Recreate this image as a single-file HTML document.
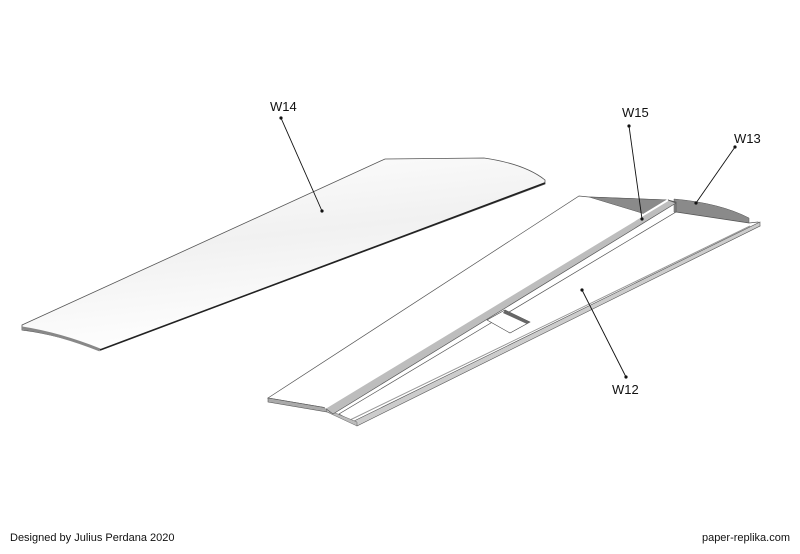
<!DOCTYPE html>
<html><head><style>
body{margin:0;background:#fff;width:800px;height:549px;overflow:hidden}
text{font-family:"Liberation Sans",sans-serif;font-size:13px;fill:#111}
</style></head><body>
<svg width="800" height="549" viewBox="0 0 800 549" xmlns="http://www.w3.org/2000/svg">
<defs>
<linearGradient id="g1" x1="0" y1="0" x2="0.3" y2="1">
<stop offset="0" stop-color="#fff"/><stop offset="0.5" stop-color="#f1f1f1"/><stop offset="1" stop-color="#fff"/>
</linearGradient>
</defs>
<!-- W14 wing -->
<path d="M22,325 L385,159 L484,158 Q525,164 545,180 L545,184 L100,350 Q60,335 22,330 Z" fill="url(#g1)" stroke="#555" stroke-width="0.8"/>
<path d="M22,328 Q60,334 100,350" fill="none" stroke="#888" stroke-width="3"/>
<path d="M100,350 L545,183" stroke="#222" stroke-width="1.6"/>
<!-- right wing: left panel -->
<path d="M268,398 L579,196 L589,197 L668,200 L333,412 L327,408 Z" fill="#fff" stroke="#555" stroke-width="0.7"/>
<path d="M268,398 L268,402 L327,412 L327,408 Z" fill="#aaa" stroke="#555" stroke-width="0.6"/>
<!-- grey W15 -->
<path d="M589,197 L668,200 L645,214 Z" fill="#8a8a8a" stroke="#555" stroke-width="0.5"/>
<!-- W13 grey -->
<path d="M674,199 Q720,203 749,218 L749,223 L674,212 Z" fill="#8a8a8a" stroke="#555" stroke-width="0.5"/>
<!-- right panel -->
<path d="M676,212 L749,223 L758,222 L760,226 L357,424 L339,414 Z" fill="#fff" stroke="#555" stroke-width="0.7"/>
<path d="M760,222 L760,226 L357,426 L354,421 Z" fill="#ccc" stroke="#555" stroke-width="0.6"/>
<path d="M750,226 L350,420" stroke="#999" stroke-width="1"/>
<path d="M327,412 L357,426 L357,422 L333,412 Z" fill="#bbb" stroke="#666" stroke-width="0.5"/>
<!-- spar -->
<path d="M325,408 L668,200 L676,203 L333,414 Z" fill="#bdbdbd" stroke="#555" stroke-width="0.7"/>
<path d="M325,408 L668,200" stroke="#fff" stroke-width="2"/>
<path d="M668,200 L676,202 L676,212" fill="none" stroke="#555" stroke-width="0.7"/>
<!-- hatch -->
<path d="M487,320 L505,310 L530,322 L510,333 Z" fill="#fff" stroke="#444" stroke-width="0.6"/>
<path d="M505,310 L530,322 L527,324 L503,313 Z" fill="#666"/>
<!-- leaders -->
<g stroke="#111" stroke-width="0.9">
<line x1="281" y1="118" x2="322" y2="211"/>
<line x1="629" y1="126" x2="642" y2="219"/>
<line x1="735" y1="147" x2="696" y2="203"/>
<line x1="626" y1="377" x2="582" y2="290"/>
</g>
<g fill="#111">
<circle cx="281" cy="118" r="1.6"/><circle cx="322" cy="211" r="1.6"/>
<circle cx="629" cy="126" r="1.6"/><circle cx="642" cy="219" r="1.6"/>
<circle cx="735" cy="147" r="1.6"/><circle cx="696" cy="203" r="1.6"/>
<circle cx="626" cy="377" r="1.6"/><circle cx="582" cy="290" r="1.6"/>
</g>
<text x="270" y="111">W14</text>
<text x="622" y="117">W15</text>
<text x="734" y="143">W13</text>
<text x="612" y="394">W12</text>
<text x="10" y="541" style="font-size:11px">Designed by Julius Perdana 2020</text>
<text x="790" y="541" text-anchor="end" style="font-size:11px">paper-replika.com</text>
</svg>
</body></html>
